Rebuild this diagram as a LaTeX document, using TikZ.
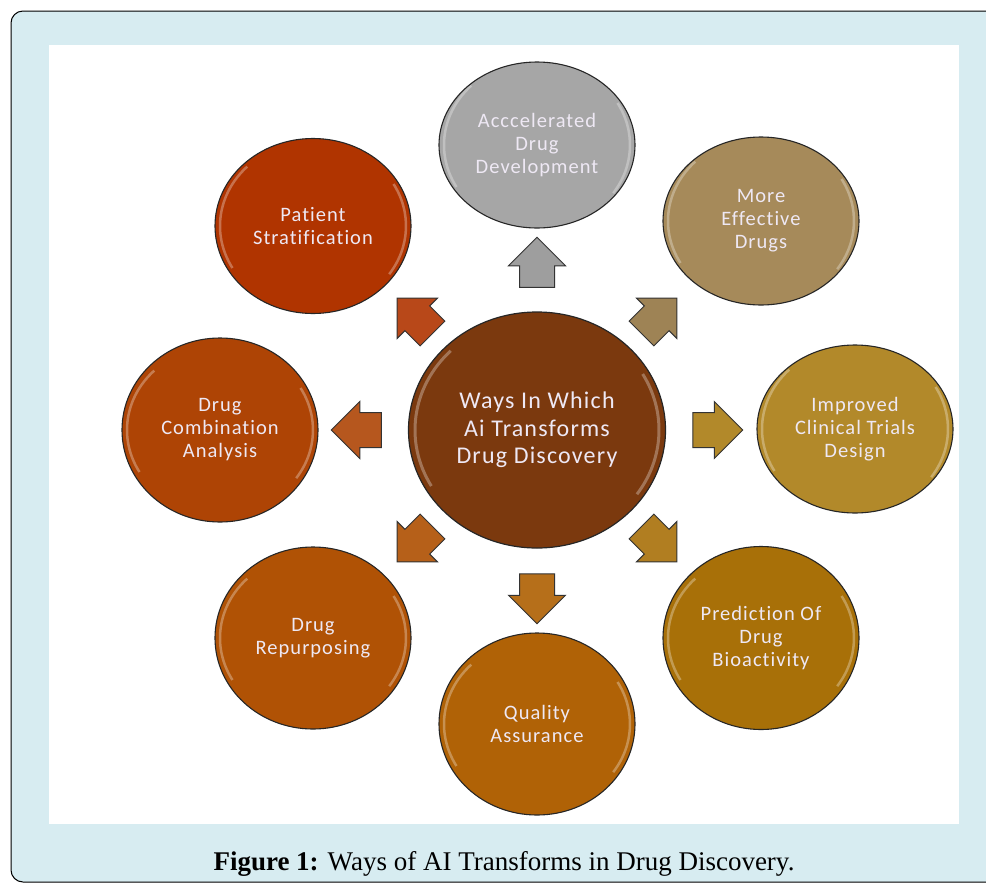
\documentclass[tikz,border=0pt]{standalone}
\usepackage{fontspec}
\setmainfont{Liberation Serif}
\newfontfamily\bubblefont{Carlito}[LetterSpace=5, Ligatures=NoCommon]
\usetikzlibrary{shapes.geometric,shapes.arrows}

\definecolor{framebg}{RGB}{215,236,241}
\definecolor{bubbletext}{RGB}{238,232,244}
\definecolor{hubcol}{RGB}{123,57,14}
\definecolor{accelcol}{RGB}{166,166,166}
\definecolor{effectcol}{RGB}{166,138,90}
\definecolor{trialcol}{RGB}{178,137,42}
\definecolor{predictcol}{RGB}{168,112,8}
\definecolor{qualitycol}{RGB}{176,98,6}
\definecolor{repurpcol}{RGB}{176,82,5}
\definecolor{combicol}{RGB}{174,68,5}
\definecolor{patientcol}{RGB}{176,52,0}

\tikzset{
	bubble/.style={ellipse, draw=black!85, line width=1.1pt, inner sep=0pt,
		minimum width=196pt, minimum height=180pt, align=center, text=bubbletext,
		font=\bubblefont\fontsize{20.5}{23}\selectfont,
		path picture={
			\draw[white, opacity=.3, line width=2.5pt] (path picture bounding box.center) ++(135:93pt and 84pt) arc[start angle=135, end angle=210, x radius=93pt, y radius=84pt];
			\draw[white, opacity=.3, line width=2.5pt] (path picture bounding box.center) ++(-35:93pt and 84pt) arc[start angle=-35, end angle=30, x radius=93pt, y radius=84pt];
		}},
	pointer/.style={single arrow, draw=black!80, line width=1pt, inner xsep=0pt, inner ysep=17pt,
		minimum height=50pt, single arrow head extend=11pt}
}

\begin{document}
\begin{tikzpicture}[x=1pt, y=-1pt]
	\useasboundingbox (0,0) rectangle (986,884);
	% frame and panel
	\draw[fill=framebg, line width=1pt, rounded corners=12pt] (11,11) rectangle (1010,882);
	\fill[white] (49,45) rectangle (959,824);

	% hub
	\node[ellipse, draw=black!85, line width=1.2pt, fill=hubcol, inner sep=0pt,
		minimum width=257pt, minimum height=236pt, align=center, text=bubbletext,
		font=\bubblefont\fontsize{24}{27.5}\selectfont,
		path picture={
			\draw[white, opacity=.3, line width=3pt] (path picture bounding box.center) ++(135:122pt and 112pt) arc[start angle=135, end angle=210, x radius=122pt, y radius=112pt];
			\draw[white, opacity=.3, line width=3pt] (path picture bounding box.center) ++(-35:122pt and 112pt) arc[start angle=-35, end angle=30, x radius=122pt, y radius=112pt];
		}] (hub) at (537,430) {Ways In Which\\Ai Transforms\\Drug Discovery};

	% outcomes
	\node[bubble, fill=accelcol, minimum height=166pt] (accel) at (537,145) {Acccelerated\\Drug\\Development};
	\node[bubble, fill=effectcol, minimum height=168pt] (effect) at (761,221) {More\\Effective\\Drugs};
	\node[bubble, fill=trialcol, minimum height=168pt] (trial) at (855,429) {Improved\\Clinical Trials\\Design};
	\node[bubble, fill=predictcol, minimum height=183pt] (predict) at (761,638) {Prediction Of\\Drug\\Bioactivity};
	\node[bubble, fill=qualitycol, minimum height=182pt] (quality) at (537,724) {Quality\\Assurance};
	\node[bubble, fill=repurpcol, minimum height=182pt] (repurp) at (313,638) {Drug\\Repurposing};
	\node[bubble, fill=combicol, minimum height=184pt] (combi) at (220,430) {Drug\\Combination\\Analysis};
	\node[bubble, fill=patientcol, minimum height=175pt] (patient) at (313,226) {Patient\\Stratification};

	% block arrows
	\node[pointer, fill=accelcol!95!black, rotate=90] (toaccel) at (537,271) {};
	\node[pointer, fill=effectcol!95!black, rotate=45] (toeffect) at (653,322) {};
	\node[pointer, fill=trialcol, rotate=0] (totrial) at (709,430) {};
	\node[pointer, fill=predictcol!90!white, rotate=-45] (topredict) at (653,538) {};
	\node[pointer, fill=qualitycol!92!white, rotate=-90] (toquality) at (537,590) {};
	\node[pointer, fill=repurpcol!92!white, rotate=-135] (torepurp) at (421,538) {};
	\node[pointer, fill=combicol!90!white, rotate=180] (tocombi) at (365,430) {};
	\node[pointer, fill=patientcol!90!white, rotate=135] (topatient) at (421,322) {};

	% caption
	\node[anchor=base, font=\fontsize{27}{30}\selectfont] (caption) at (504,870) {\textbf{Figure 1:} Ways of AI Transforms in Drug Discovery.};
\end{tikzpicture}
\end{document}
